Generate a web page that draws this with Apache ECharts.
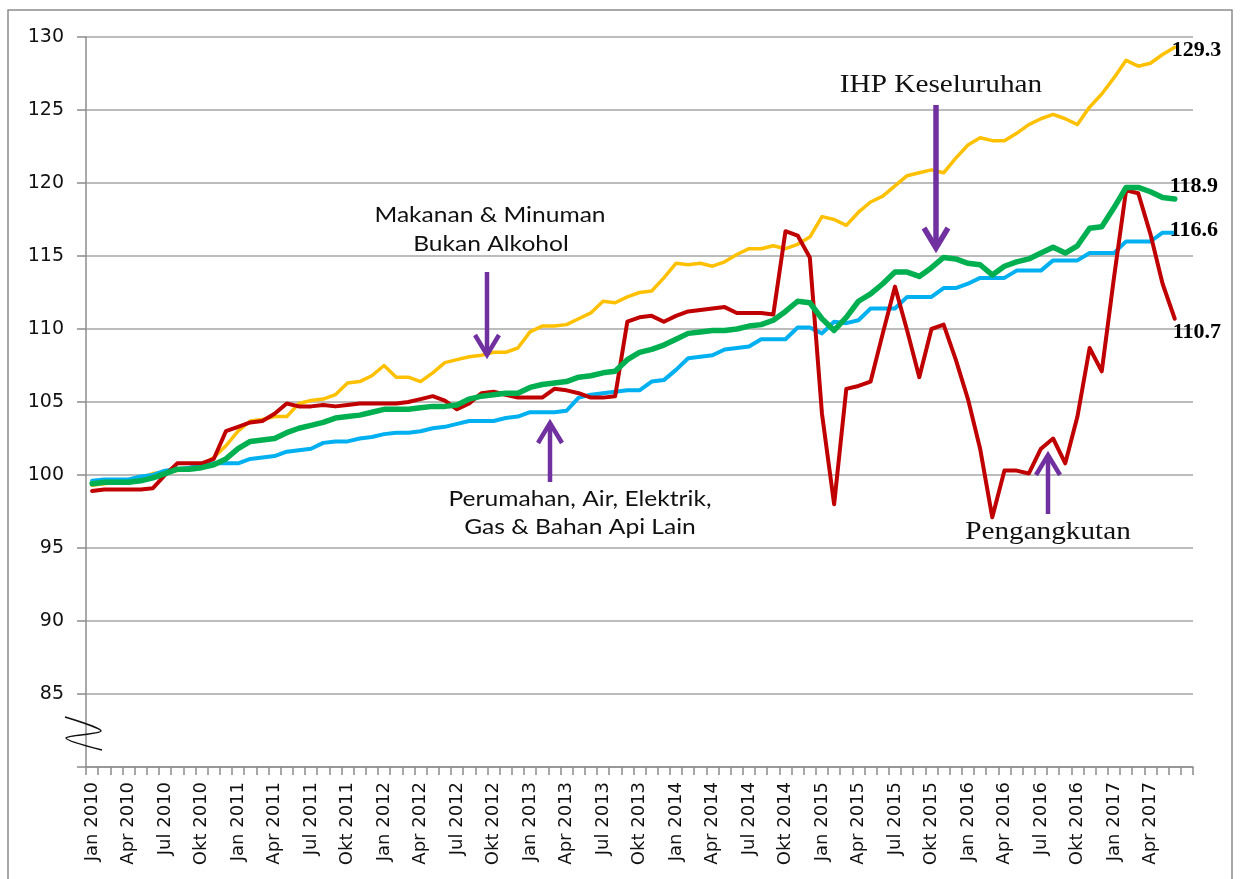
<!DOCTYPE html>
<html>
<head>
<meta charset="utf-8">
<script src="https://cdn.jsdelivr.net/npm/echarts@6/dist/echarts.min.js"></script>
<style>
html,body{margin:0;padding:0;background:#fff}
#Chart{width:1240px;height:879px}
</style>
</head>
<body>
<div id="Chart"></div>
<script>
// bulan & tahun untuk paksi-x (Jan 2010 - Jun 2017, tambah satu baris kosong)
var monthNames = ['Jan', 'Feb', 'Mac', 'Apr', 'Mei', 'Jun', 'Jul', 'Ogo', 'Sep', 'Okt', 'Nov', 'Dis'];
var years = [2010, 2011, 2012, 2013, 2014, 2015, 2016, 2017];
var categories = [];
for (var y = 0; y < years.length; y++) {
    for (var m = 0; m < 12; m++) {
        if (years[y] == 2017 && m > 5) break;
        categories.push(monthNames[m] + ' ' + years[y]);
    }
}
categories.push('');

// IHP Keseluruhan
var keseluruhan = [99.4, 99.5, 99.5, 99.5, 99.6, 99.8, 100.1, 100.4, 100.4, 100.5, 100.7, 101.1,
    101.8, 102.3, 102.4, 102.5, 102.9, 103.2, 103.4, 103.6, 103.9, 104.0, 104.1, 104.3,
    104.5, 104.5, 104.5, 104.6, 104.7, 104.7, 104.8, 105.2, 105.4, 105.5, 105.6, 105.6,
    106.0, 106.2, 106.3, 106.4, 106.7, 106.8, 107.0, 107.1, 107.9, 108.4, 108.6, 108.9,
    109.3, 109.7, 109.8, 109.9, 109.9, 110.0, 110.2, 110.3, 110.6, 111.2, 111.9, 111.8,
    110.7, 109.9, 110.8, 111.9, 112.4, 113.1, 113.9, 113.9, 113.6, 114.2, 114.9, 114.8,
    114.5, 114.4, 113.7, 114.3, 114.6, 114.8, 115.2, 115.6, 115.2, 115.7, 116.9, 117.0,
    118.3, 119.7, 119.7, 119.4, 119.0, 118.9];
// Makanan & Minuman Bukan Alkohol
var makanan = [99.3, 99.4, 99.5, 99.6, 99.8, 100.1, 100.2, 100.3, 100.4, 100.6, 101.2, 102.0,
    103.0, 103.7, 103.8, 104.0, 104.0, 104.9, 105.1, 105.2, 105.5, 106.3, 106.4, 106.8,
    107.5, 106.7, 106.7, 106.4, 107.0, 107.7, 107.9, 108.1, 108.2, 108.4, 108.4, 108.7,
    109.8, 110.2, 110.2, 110.3, 110.7, 111.1, 111.9, 111.8, 112.2, 112.5, 112.6, 113.5,
    114.5, 114.4, 114.5, 114.3, 114.6, 115.1, 115.5, 115.5, 115.7, 115.5, 115.8, 116.3,
    117.7, 117.5, 117.1, 118.0, 118.7, 119.1, 119.8, 120.5, 120.7, 120.9, 120.7, 121.7,
    122.6, 123.1, 122.9, 122.9, 123.4, 124.0, 124.4, 124.7, 124.4, 124.0, 125.2, 126.1,
    127.2, 128.4, 128.0, 128.2, 128.8, 129.3];
// Perumahan, Air, Elektrik, Gas & Bahan Api Lain
var perumahan = [99.6, 99.7, 99.7, 99.7, 99.9, 100.0, 100.3, 100.4, 100.5, 100.7, 100.8, 100.8,
    100.8, 101.1, 101.2, 101.3, 101.6, 101.7, 101.8, 102.2, 102.3, 102.3, 102.5, 102.6,
    102.8, 102.9, 102.9, 103.0, 103.2, 103.3, 103.5, 103.7, 103.7, 103.7, 103.9, 104.0,
    104.3, 104.3, 104.3, 104.4, 105.3, 105.5, 105.6, 105.7, 105.8, 105.8, 106.4, 106.5,
    107.2, 108.0, 108.1, 108.2, 108.6, 108.7, 108.8, 109.3, 109.3, 109.3, 110.1, 110.1,
    109.7, 110.5, 110.4, 110.6, 111.4, 111.4, 111.4, 112.2, 112.2, 112.2, 112.8, 112.8,
    113.1, 113.5, 113.5, 113.5, 114.0, 114.0, 114.0, 114.7, 114.7, 114.7, 115.2, 115.2,
    115.2, 116.0, 116.0, 116.0, 116.6, 116.6];
// Pengangkutan
var pengangkutan = [98.9, 99.0, 99.0, 99.0, 99.0, 99.1, 100.0, 100.8, 100.8, 100.8, 101.1, 103.0,
    103.3, 103.6, 103.7, 104.2, 104.9, 104.7, 104.7, 104.8, 104.7, 104.8, 104.9, 104.9,
    104.9, 104.9, 105.0, 105.2, 105.4, 105.1, 104.5, 104.9, 105.6, 105.7, 105.5, 105.3,
    105.3, 105.3, 105.9, 105.8, 105.6, 105.3, 105.3, 105.4, 110.5, 110.8, 110.9, 110.5,
    110.9, 111.2, 111.3, 111.4, 111.5, 111.1, 111.1, 111.1, 111.0, 116.7, 116.4, 114.9,
    104.2, 98.0, 105.9, 106.1, 106.4, 109.7, 112.9, 109.9, 106.7, 110.0, 110.3, 107.9,
    105.2, 101.8, 97.1, 100.3, 100.3, 100.1, 101.8, 102.5, 100.8, 104.0, 108.7, 107.1,
    113.5, 119.5, 119.3, 116.5, 113.1, 110.7];

var purple = '#7030A0';
var serifFont = '"Liberation Serif", "Times New Roman", serif';
var sansFont = 'Lato, "Open Sans", sans-serif';
var axisFont = '"DejaVu Sans", Verdana, sans-serif';

function endLabel(dx, dy) {
    return {
        show: true,
        position: 'right',
        distance: 0,
        offset: [dx, dy],
        formatter: function (p) { return p.value.toFixed(1); },
        fontFamily: serifFont,
        fontWeight: 'bold',
        fontSize: 22,
        color: '#000'
    };
}

function lineSeries(name, data, color, width, label) {
    return {
        name: name,
        type: 'line',
        data: data,
        symbol: 'none',
        lineStyle: { color: color, width: width, join: 'round', cap: 'round' },
        itemStyle: { color: color },
        endLabel: label
    };
}

function note(x, y, text, font, size) {
    return {
        type: 'text', x: x, y: y, scaleX: 1.17, z: 20,
        style: {
            text: text, x: 0, y: 0, fill: '#111',
            font: size + 'px ' + font,
            textAlign: 'center', textVerticalAlign: 'middle'
        }
    };
}

function arrow(x, y1, y2, w) {
    var dir = y2 > y1 ? 1 : -1;
    return [{
        type: 'line', z: 20,
        shape: { x1: x, y1: y1, x2: x, y2: y2 },
        style: { stroke: purple, lineWidth: w }
    }, {
        type: 'polyline', z: 20,
        shape: { points: [[x - 12, y2 - dir * 20], [x, y2], [x + 12, y2 - dir * 20]] },
        style: { stroke: purple, lineWidth: w, fill: null }
    }];
}

var myChart = echarts.init(document.getElementById('Chart'));
var option = {
    animation: false,
    backgroundColor: '#fff',
    grid: { left: 86, right: 47, top: 37, bottom: 112, containLabel: false },
    xAxis: {
        type: 'category',
        data: categories,
        boundaryGap: true,
        axisLine: { lineStyle: { color: '#8c8c8c', width: 1.5 } },
        axisTick: { show: true, interval: 0, length: 8, lineStyle: { color: '#8c8c8c', width: 1.5 } },
        axisLabel: {
            interval: 2, rotate: 90, margin: 15,
            fontFamily: axisFont, fontSize: 18, color: '#111'
        },
        splitLine: { show: false }
    },
    yAxis: {
        type: 'value',
        min: 80, max: 130, interval: 5,
        axisLine: { show: true, lineStyle: { color: '#8c8c8c', width: 1.5 } },
        axisTick: { show: true, length: 9, lineStyle: { color: '#8c8c8c', width: 1.5 } },
        axisLabel: {
            margin: 22,
            fontFamily: axisFont, fontSize: 19, color: '#111',
            formatter: function (v) { return v == 80 ? '' : v; }
        },
        splitLine: { show: true, lineStyle: { color: '#a6a6a6', width: 1.5 } }
    },
    series: [
        lineSeries('Makanan & Minuman Bukan Alkohol', makanan, '#FFC000', 3.5, endLabel(-3, 3)),
        lineSeries('Perumahan, Air, Elektrik, Gas & Bahan Api Lain', perumahan, '#00B0F0', 4, endLabel(-5, -2)),
        lineSeries('Pengangkutan', pengangkutan, '#C00000', 4, endLabel(-2, 14)),
        lineSeries('IHP Keseluruhan', keseluruhan, '#00B050', 5.5, endLabel(-5, -13))
    ],
    graphic: [
        {
            type: 'rect', z: 0, silent: true,
            shape: { x: 8, y: 10, width: 1224, height: 880 },
            style: { stroke: '#8c8c8c', lineWidth: 1.5, fill: null }
        },
        {
            type: 'polyline', z: 30,
            shape: { points: [[65, 717], [101, 731], [66, 738], [102, 750]], smooth: 0.3 },
            style: { stroke: '#111', lineWidth: 1.5, fill: null }
        },
        note(941, 85, 'IHP Keseluruhan', serifFont, 25),
        note(1048, 532, 'Pengangkutan', serifFont, 25),
        note(490, 215, 'Makanan & Minuman', sansFont, 21),
        note(491, 244, 'Bukan Alkohol', sansFont, 21),
        note(580, 499, 'Perumahan, Air, Elektrik,', sansFont, 21),
        note(580, 527, 'Gas & Bahan Api Lain', sansFont, 21)
    ].concat(arrow(936, 105, 248, 5.5))
     .concat(arrow(487, 272, 355, 4.5))
     .concat(arrow(550, 482, 423, 4.5))
     .concat(arrow(1048, 514, 455, 4.5))
};
myChart.setOption(option);
window.addEventListener('resize', function () {
    myChart.resize();
});
</script>
</body>
</html>
